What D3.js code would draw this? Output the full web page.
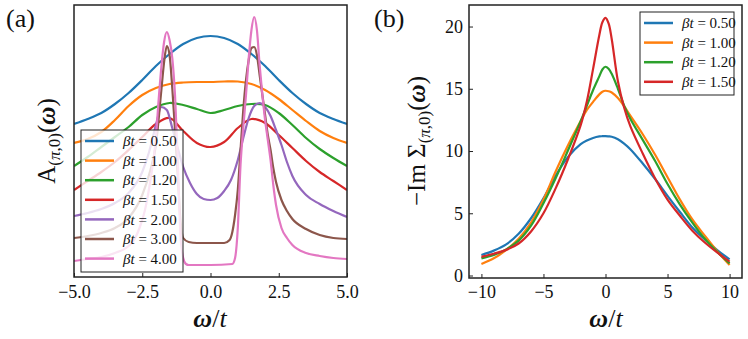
<!DOCTYPE html>
<html>
<head>
<meta charset="utf-8">
<script src="https://cdn.jsdelivr.net/npm/d3@7"></script>
<style>
  body { margin: 0; background: #fff; }
  svg { display: block; }
  text { font-family: "Liberation Serif", "Times New Roman", serif; fill: #111; }
</style>
</head>
<body>
<svg id="fig" width="748" height="339"></svg>
<script>
// ---- panel (a): spectral function A_(pi,0)(omega), arbitrary units ----
var betaA = ["0.50", "1.00", "1.20", "1.50", "2.00", "3.00", "4.00"];

var omegaA = [-5, -4.5, -4, -3.5, -3, -2.5, -2, -1.5, -1, -0.5, 0, 0.5, 1, 1.5, 2, 2.5, 3, 3.5, 4, 4.5, 5];
var specA050 = [1.53, 1.58, 1.64, 1.73, 1.84, 1.97, 2.11, 2.23, 2.33, 2.39, 2.41, 2.39, 2.33, 2.23, 2.11, 1.97, 1.84, 1.73, 1.64, 1.58, 1.53];
var specA100 = [1.34, 1.38, 1.45, 1.57, 1.71, 1.82, 1.89, 1.93, 1.945, 1.95, 1.95, 1.955, 1.955, 1.93, 1.87, 1.78, 1.67, 1.56, 1.46, 1.39, 1.34];
var specA120 = [1.11, 1.20, 1.30, 1.40, 1.50, 1.62, 1.70, 1.74, 1.72, 1.68, 1.64, 1.67, 1.71, 1.73, 1.72, 1.64, 1.52, 1.39, 1.28, 1.19, 1.11];
var specA150 = [0.87, 0.96, 1.05, 1.15, 1.27, 1.40, 1.53, 1.59, 1.46, 1.34, 1.30, 1.35, 1.49, 1.58, 1.54, 1.42, 1.29, 1.16, 1.05, 0.96, 0.87];

var omegaA200 = [-5, -4.5, -4, -3.5, -3, -2.5, -2.25, -2, -1.8, -1.6, -1.4, -1.2, -1, -0.75, -0.5, -0.25, 0, 0.25, 0.5, 0.75, 1, 1.2, 1.4, 1.6, 1.8, 2, 2.2, 2.4, 2.6, 2.8, 3, 3.5, 4, 4.5, 5];
var specA200 = [0.61, 0.64, 0.68, 0.74, 0.84, 1.05, 1.25, 1.52, 1.70, 1.67, 1.49, 1.29, 1.10, 0.94, 0.83, 0.78, 0.77, 0.79, 0.86, 0.97, 1.17, 1.39, 1.59, 1.71, 1.74, 1.70, 1.61, 1.47, 1.32, 1.15, 1.01, 0.82, 0.73, 0.66, 0.60];

var omegaA300 = [-5, -4.5, -4, -3.5, -3, -2.5, -2.2, -2, -1.8, -1.7, -1.6, -1.5, -1.4, -1.3, -1.2, -1.1, -1, -0.8, -0.5, 0, 0.5, 0.7, 0.8, 0.9, 1, 1.1, 1.2, 1.3, 1.4, 1.5, 1.6, 1.7, 1.8, 1.9, 2, 2.1, 2.2, 2.3, 2.4, 2.6, 2.8, 3, 3.5, 4, 4.5, 5];
var specA300 = [0.39, 0.41, 0.44, 0.49, 0.59, 0.82, 1.07, 1.32, 1.87, 2.15, 2.31, 2.22, 1.89, 1.47, 1.02, 0.57, 0.39, 0.35, 0.34, 0.34, 0.34, 0.37, 0.45, 0.62, 0.87, 1.27, 1.67, 1.97, 2.17, 2.29, 2.30, 2.22, 2.02, 1.82, 1.62, 1.42, 1.27, 1.09, 0.95, 0.77, 0.66, 0.58, 0.48, 0.42, 0.39, 0.38];

var omegaA400 = [-5, -4.5, -4, -3.5, -3, -2.8, -2.6, -2.4, -2.2, -2, -1.9, -1.8, -1.7, -1.6, -1.5, -1.4, -1.3, -1.2, -1.1, -1, -0.9, -0.8, 0, 0.8, 0.9, 1, 1.1, 1.2, 1.3, 1.4, 1.5, 1.6, 1.7, 1.8, 1.9, 2, 2.1, 2.2, 2.3, 2.4, 2.6, 2.8, 3, 3.5, 4, 4.5, 5];
var specA400 = [0.16, 0.18, 0.20, 0.24, 0.31, 0.37, 0.49, 0.67, 0.97, 1.39, 1.77, 2.10, 2.35, 2.45, 2.37, 2.19, 1.82, 1.17, 0.42, 0.19, 0.13, 0.12, 0.12, 0.13, 0.19, 0.49, 1.12, 1.49, 1.82, 2.19, 2.47, 2.60, 2.47, 2.12, 1.82, 1.57, 1.37, 1.17, 0.92, 0.72, 0.49, 0.39, 0.32, 0.24, 0.21, 0.19, 0.18];

// ---- panel (b): -Im Sigma_(pi,0)(omega) ----
var betaB = ["0.50", "1.00", "1.20", "1.50"];
var omegaB = [-10, -9, -8, -7, -6, -5, -4, -3, -2, -1.5, -1, -0.5, -0.25, 0, 0.25, 0.5, 1, 1.5, 2, 3, 4, 5, 6, 7, 8, 9, 10];
var sigB050 = [1.65, 2.0, 2.5, 3.35, 4.6, 6.2, 8.05, 9.55, 10.55, 10.85, 11.05, 11.17, 11.19, 11.2, 11.18, 11.15, 10.95, 10.6, 10.15, 9.0, 7.75, 6.4, 5.1, 3.85, 2.9, 2.05, 1.30];
var sigB100 = [0.92, 1.38, 2.05, 2.95, 4.25, 6.1, 8.4, 10.5, 12.4, 13.3, 13.95, 14.55, 14.76, 14.84, 14.8, 14.7, 14.25, 13.6, 12.85, 11.35, 9.7, 7.9, 6.1, 4.5, 3.2, 1.95, 0.84];
var sigB120 = [1.38, 1.65, 2.1, 2.8, 4.0, 5.8, 7.85, 10.1, 12.4, 13.65, 14.9, 16.0, 16.55, 16.77, 16.6, 16.2, 15.0, 13.65, 12.6, 10.9, 9.2, 7.35, 5.7, 4.25, 2.95, 1.9, 0.98];
var sigB150 = [1.5, 1.75, 2.06, 2.57, 3.54, 5.0, 7.04, 9.4, 12.08, 14.0, 16.6, 19.3, 20.35, 20.7, 20.25, 19.0, 15.6, 13.5, 12.0, 9.8, 7.8, 6.1, 4.8, 3.6, 2.65, 1.85, 1.11];
var ticksBX = [-10, -5, 0, 5, 10];
var ticksBY = [0, 5, 10, 15, 20];
var ticksAX = [-5, -2.5, 0, 2.5, 5];

var colors = ["#1f77b4", "#ff7f0e", "#2ca02c", "#d62728", "#9467bd", "#8c564b", "#e377c2"];

// broad curves get a smooth spline, the narrow peaked ones stay monotone (no overshoot on the floors)
var smooth = d3.curveCatmullRom.alpha(0.5);
var seriesA = [
  {x: omegaA, y: specA050, c: smooth}, {x: omegaA, y: specA100, c: smooth},
  {x: omegaA, y: specA120, c: smooth}, {x: omegaA, y: specA150, c: smooth},
  {x: omegaA200, y: specA200, c: d3.curveMonotoneX}, {x: omegaA300, y: specA300, c: d3.curveMonotoneX},
  {x: omegaA400, y: specA400, c: d3.curveMonotoneX}
];
var seriesB = [sigB050, sigB100, sigB120, sigB150];

var svg = d3.select("#fig");

var xA = d3.scaleLinear().domain([-5, 5]).range([74, 347]);
var yA = d3.scaleLinear().domain([0, 2.72]).range([277, 5]);
var xB = d3.scaleLinear().domain([-11, 11]).range([469, 742]);
var yB = d3.scaleLinear().domain([-0.2, 21.73]).range([278, 5]);

function clip(id, x, y) {
  svg.append("clipPath").attr("id", id).append("rect")
    .attr("x", x.range()[0]).attr("y", y.range()[1])
    .attr("width", x.range()[1] - x.range()[0])
    .attr("height", y.range()[0] - y.range()[1]);
}
clip("clipA", xA, yA);
clip("clipB", xB, yB);

// panel (a) curves
var gA = svg.append("g").attr("clip-path", "url(#clipA)");
seriesA.forEach(function(s, i) {
  var pts = s.x.map(function(w, k) { return [w, s.y[k]]; });
  var line = d3.line().x(function(d) { return xA(d[0]); }).y(function(d) { return yA(d[1]); })
    .curve(s.c);
  gA.append("path").datum(pts)
    .attr("fill", "none").attr("stroke", colors[i]).attr("stroke-width", 2.2)
    .attr("stroke-linejoin", "round")
    .attr("d", line);
});

// panel (b) curves
var gB = svg.append("g").attr("clip-path", "url(#clipB)");
seriesB.forEach(function(vals, i) {
  var pts = omegaB.map(function(w, k) { return [w, vals[k]]; });
  var line = d3.line().x(function(d) { return xB(d[0]); }).y(function(d) { return yB(d[1]); })
    .curve(smooth);
  gB.append("path").datum(pts)
    .attr("fill", "none").attr("stroke", colors[i]).attr("stroke-width", 2.2)
    .attr("stroke-linejoin", "round")
    .attr("d", line);
});

// axes
function styleAxis(g) {
  g.select(".domain").remove();
  g.selectAll(".tick line").attr("stroke", "#222").attr("stroke-width", 1);
  g.selectAll(".tick text").attr("font-size", 18).attr("fill", "#111");
}

svg.append("g").attr("transform", "translate(0,277)")
  .call(d3.axisBottom(xA).tickValues(ticksAX).tickFormat(d3.format(".1f")).tickSizeInner(-4).tickSizeOuter(0).tickPadding(8))
  .call(styleAxis);

svg.append("g").attr("transform", "translate(0,278)")
  .call(d3.axisBottom(xB).tickValues(ticksBX).tickFormat(d3.format("d")).tickSizeInner(-4).tickSizeOuter(0).tickPadding(7))
  .call(styleAxis);

svg.append("g").attr("transform", "translate(469,0)")
  .call(d3.axisLeft(yB).tickValues(ticksBY).tickFormat(d3.format("d")).tickSizeInner(-4).tickSizeOuter(0).tickPadding(6))
  .call(styleAxis);

// frames
[[xA, yA], [xB, yB]].forEach(function(p) {
  svg.append("rect")
    .attr("x", p[0].range()[0]).attr("y", p[1].range()[1])
    .attr("width", p[0].range()[1] - p[0].range()[0])
    .attr("height", p[1].range()[0] - p[1].range()[1])
    .attr("fill", "none").attr("stroke", "#222").attr("stroke-width", 1.5);
});

// legends
function legend(x0, y0, w, h, labels) {
  var g = svg.append("g");
  g.append("rect").attr("x", x0).attr("y", y0).attr("width", w).attr("height", h)
    .attr("fill", "#fff").attr("fill-opacity", 0.8)
    .attr("stroke", "#222").attr("stroke-width", 1);
  labels.forEach(function(lab, i) {
    var yy = y0 + 11 + i * 19.6;
    g.append("line").attr("x1", x0 + 4).attr("x2", x0 + 33).attr("y1", yy).attr("y2", yy)
      .attr("stroke", colors[i]).attr("stroke-width", 2.5);
    var t = g.append("text").attr("x", x0 + 42).attr("y", yy).attr("dy", "0.35em").attr("font-size", 15);
    t.append("tspan").attr("font-style", "italic").text("βt");
    t.append("tspan").text(" = " + lab);
  });
}
legend(81, 130, 102, 142, betaA);
legend(640, 12, 94, 83, betaB);

// axis labels
function xLabel(cx) {
  var t = svg.append("text").attr("x", cx).attr("y", 327).attr("text-anchor", "middle").attr("font-size", 26);
  t.append("tspan").attr("font-style", "italic").attr("font-weight", "bold").text("ω");
  t.append("tspan").text("/");
  t.append("tspan").attr("font-style", "italic").text("t");
}
xLabel(210);
xLabel(606);

function yLabel(x, pre) {
  var t = svg.append("text").attr("transform", "translate(" + x + ",141) rotate(-90)")
    .attr("text-anchor", "middle").attr("font-size", 25);
  pre(t);
  t.append("tspan").attr("font-size", 17).attr("dy", 5).text("(");
  t.append("tspan").attr("font-size", 17).attr("font-style", "italic").text("π");
  t.append("tspan").attr("font-size", 17).text(",0)");
  t.append("tspan").attr("dy", -5).text("(");
  t.append("tspan").attr("font-style", "italic").attr("font-weight", "bold").text("ω");
  t.append("tspan").text(")");
}
yLabel(55, function(t) { t.append("tspan").text("A"); });
yLabel(425, function(t) { t.append("tspan").text("−Im Σ"); });

// panel tags
svg.append("text").attr("x", 6).attr("y", 27).attr("font-size", 26).text("(a)");
svg.append("text").attr("x", 374).attr("y", 27).attr("font-size", 26).text("(b)");
</script>
</body>
</html>
